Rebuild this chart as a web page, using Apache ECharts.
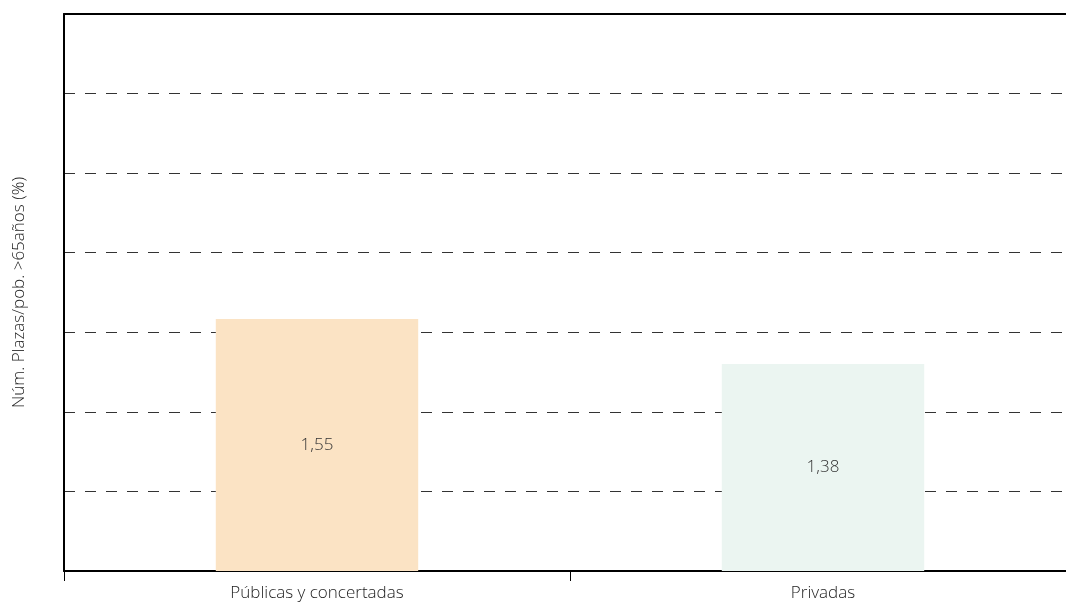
<!DOCTYPE html>
<html>
<head>
<meta charset="utf-8">
<script src="https://cdn.jsdelivr.net/npm/echarts@6/dist/echarts.min.js"></script>
<style>
  html, body { margin: 0; padding: 0; background: #fff; }
  #chart { width: 1066px; height: 607px; }
</style>
</head>
<body>
<div id="chart"></div>
<script>
// datos
var categorias = ['Públicas y concertadas', 'Privadas'];
var valores = [1.55, 1.38];
var colores = ['#fbe3c4', '#ebf5f1'];
var nombreEje = 'Núm. Plazas/pob. >65años (%)';

var fuente = 'Open Sans';

var myChart = echarts.init(document.getElementById('chart'));

var option = {
    animation: false,
    grid: {
        left: 64,
        top: 14,
        width: 1012,
        bottom: 36,
        outerBoundsMode: 'none'
    },
    xAxis: [
        {
            type: 'category',
            data: categorias,
            position: 'bottom',
            axisLine: { show: true, lineStyle: { color: '#000', width: 2 } },
            axisTick: { show: true, length: 10, lineStyle: { color: '#000', width: 1 } },
            axisLabel: {
                margin: 14,
                fontFamily: fuente,
                fontWeight: 300,
                fontSize: 17,
                color: '#222'
            }
        },
        {
            type: 'category',
            data: categorias,
            position: 'top',
            axisLine: { show: true, lineStyle: { color: '#000', width: 2 } },
            axisTick: { show: false },
            axisLabel: { show: false }
        }
    ],
    yAxis: {
        type: 'value',
        min: 0.6,
        max: 2.7,
        interval: 0.3,
        name: nombreEje,
        nameLocation: 'middle',
        nameGap: 36,
        nameTextStyle: {
            fontFamily: fuente,
            fontWeight: 300,
            fontSize: 17,
            color: '#222'
        },
        axisLine: { show: true, lineStyle: { color: '#000', width: 2 } },
        axisTick: { show: false },
        axisLabel: { show: false },
        splitLine: {
            show: true,
            lineStyle: { color: '#333', width: 1, type: [11, 10] }
        }
    },
    series: [
        {
            type: 'bar',
            data: valores.map(function (v, i) {
                return { value: v, itemStyle: { color: colores[i] } };
            }),
            barWidth: '40%',
            z: 3,
            label: {
                show: true,
                position: 'inside',
                fontFamily: fuente,
                fontWeight: 300,
                fontSize: 17,
                color: '#333',
                formatter: function (p) {
                    return p.value.toFixed(2).replace('.', ',');
                }
            }
        }
    ]
};

myChart.setOption(option);
window.addEventListener('resize', function () {
    myChart.resize();
});
</script>
</body>
</html>
